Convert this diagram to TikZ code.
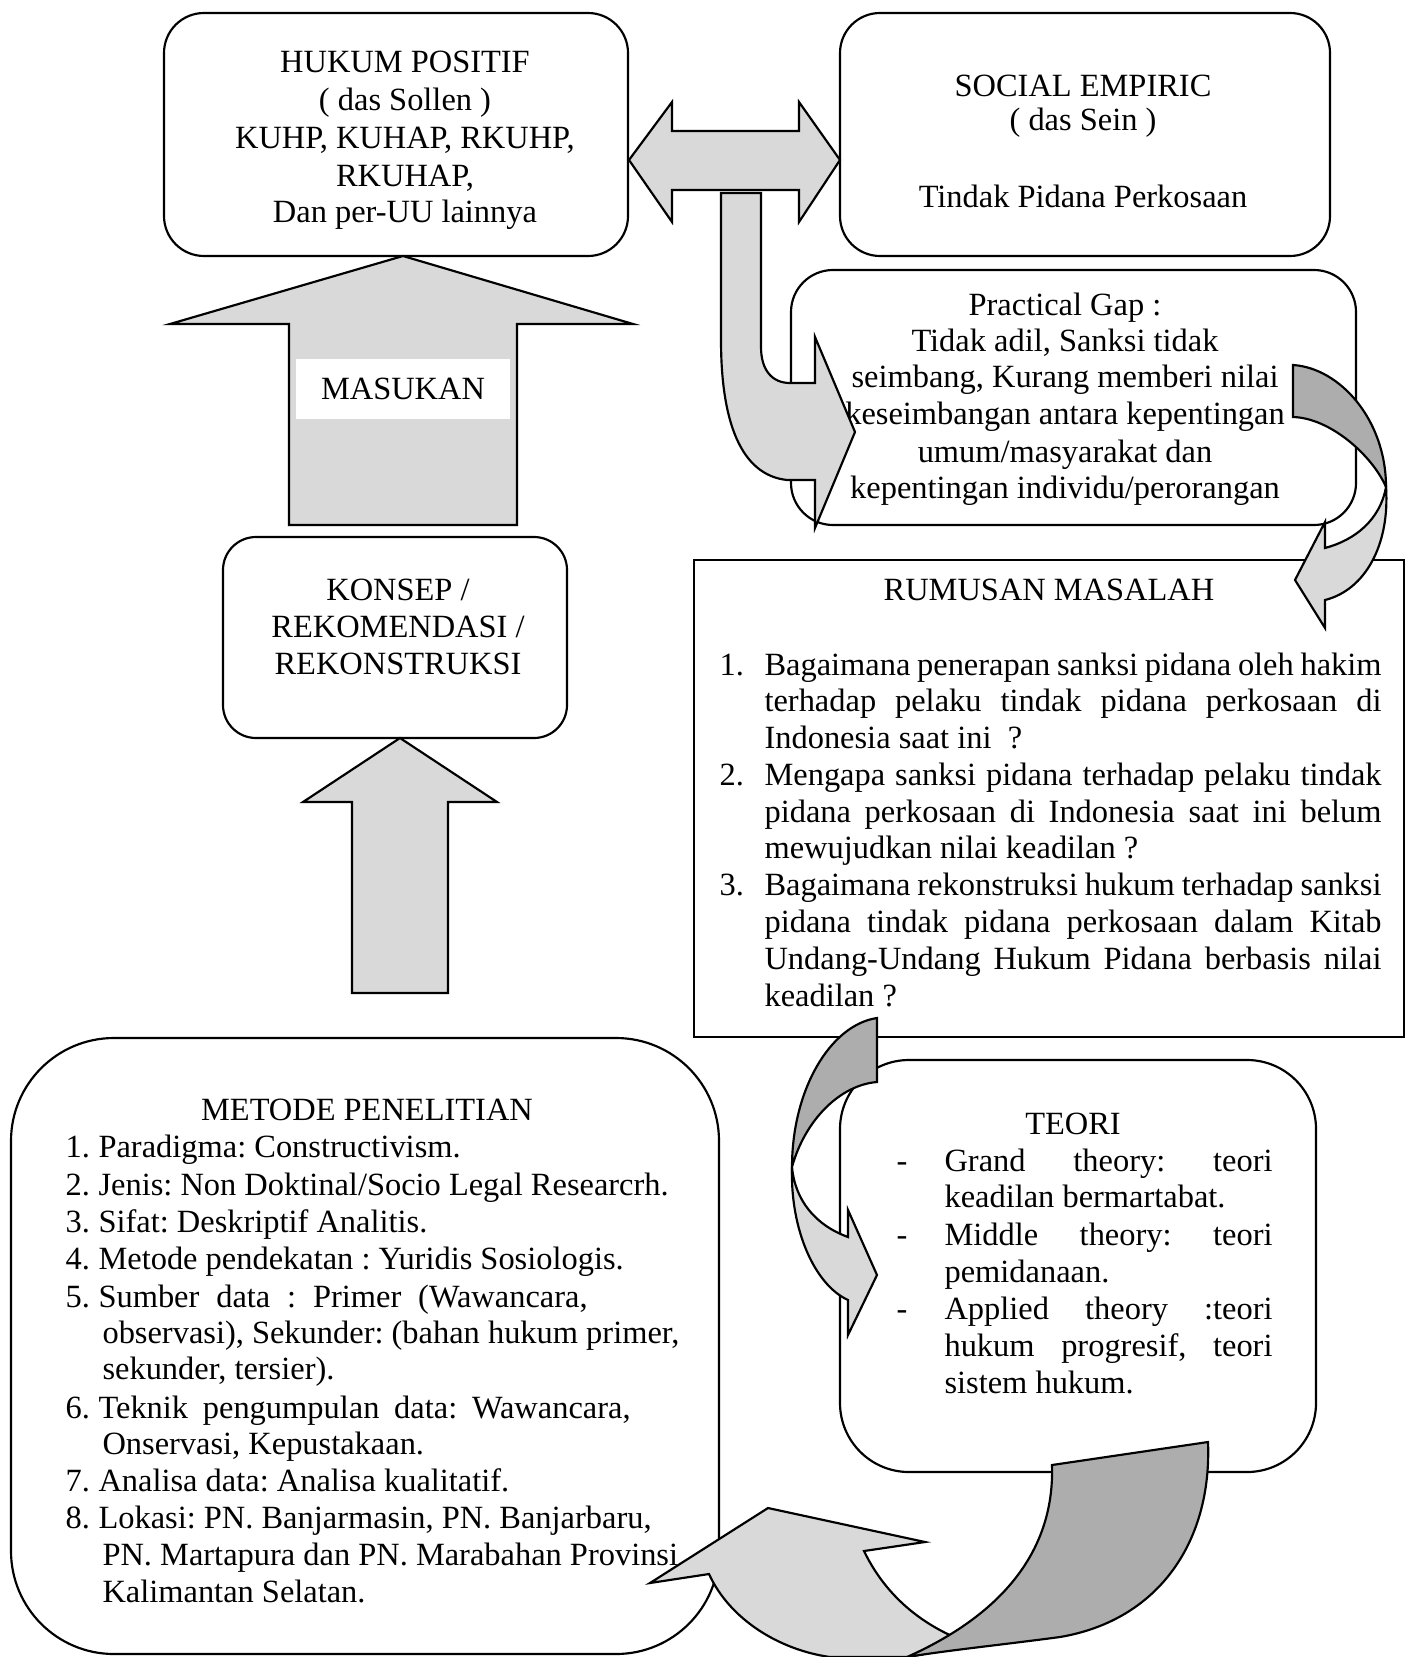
\documentclass[tikz,border=0pt]{standalone}
\usepackage{fontspec}
\setmainfont{Liberation Serif}
\newdimen\pxu \pxu=0.37pt
\definecolor{lg}{HTML}{D9D9D9}
\definecolor{dg}{HTML}{ADADAD}
\frenchspacing
\begin{document}
\begin{tikzpicture}[x=0.37pt,y=-0.37pt,
  every node/.style={font=\fontsize{12}{13.8}\selectfont\frenchspacing, inner sep=0pt},
  rbox/.style={draw, line width=0.8pt, rounded corners=#1},
  sbox/.style={draw, line width=0.8pt},
  arrowfill/.style={draw, line width=0.8pt, fill=lg, line join=miter},
  darkfill/.style={draw, line width=0.8pt, fill=dg, line join=miter},
  ct/.style={anchor=mid},
  lt/.style={anchor=mid west}]
\useasboundingbox (0,0) rectangle (1409,1657);

% ---------- boxes ----------
\node[rbox=40\pxu, minimum width=464\pxu, minimum height=243\pxu] (hukum) at (396,134.5) {};
\node[rbox=40\pxu, minimum width=490\pxu, minimum height=243\pxu] (social) at (1085,134.5) {};
\node[rbox=42\pxu, minimum width=565\pxu, minimum height=255\pxu] (gap) at (1073.5,397.5) {};
\node[sbox, minimum width=710\pxu, minimum height=477\pxu] (rumusan) at (1049,798.5) {};
\node[rbox=33\pxu, minimum width=344\pxu, minimum height=201\pxu] (konsep) at (395,637.5) {};
\node[rbox=103\pxu, minimum width=708\pxu, minimum height=616\pxu] (metode) at (365,1346) {};
\node[rbox=69\pxu, minimum width=476\pxu, minimum height=412\pxu] (teori) at (1078,1266) {};

\begin{scope}[shift={(0,5)}]
% ---------- texts: hukum ----------
\node[ct] (h1) at (405,61) {HUKUM POSITIF};
\node[ct] (h2) at (405,99) {( das Sollen )};
\node[ct] (h3) at (405,137) {KUHP, KUHAP, RKUHP,};
\node[ct] (h4) at (405,175) {RKUHAP,};
\node[ct] (h5) at (405,211) {Dan per-UU lainnya};

% ---------- social ----------
\node[ct] (s1) at (1083,85) {SOCIAL EMPIRIC};
\node[ct] (s2) at (1083,119) {( das Sein )};
\node[ct] (s3) at (1083,196) {Tindak Pidana Perkosaan};

% ---------- practical gap ----------
\node[ct] (g1) at (1065,304) {Practical Gap :};
\node[ct] (g2) at (1065,340) {Tidak adil, Sanksi tidak};
\node[ct] (g3) at (1065,376) {seimbang, Kurang memberi nilai};
\node[ct] (g4) at (1065,413) {keseimbangan antara kepentingan};
\node[ct] (g5) at (1065,451) {umum/masyarakat dan};
\node[ct] (g6) at (1065,487) {kepentingan individu/perorangan};

% ---------- rumusan ----------
\node[ct] (r0) at (1049,589) {RUMUSAN MASALAH};
\node[lt] (n1) at (719,664) {1.};
\node[lt] (r1) at (764,664) {\makebox[617\pxu][s]{Bagaimana penerapan sanksi pidana oleh hakim}};
\node[lt] (r2) at (764,700) {\makebox[617\pxu][s]{terhadap pelaku tindak pidana perkosaan di}};
\node[lt] (r3) at (764,737) {Indonesia saat ini\ \ ?};
\node[lt] (n2) at (719,774) {2.};
\node[lt] (r4) at (764,774) {\makebox[617\pxu][s]{Mengapa sanksi pidana terhadap pelaku tindak}};
\node[lt] (r5) at (764,811) {\makebox[617\pxu][s]{pidana perkosaan di Indonesia saat ini belum}};
\node[lt] (r6) at (764,847) {mewujudkan nilai keadilan ?};
\node[lt] (n3) at (719,884) {3.};
\node[lt] (r7) at (764,884) {\makebox[617\pxu][s]{Bagaimana rekonstruksi hukum terhadap sanksi}};
\node[lt] (r8) at (764,921) {\makebox[617\pxu][s]{pidana tindak pidana perkosaan dalam Kitab}};
\node[lt] (r9) at (764,958) {\makebox[617\pxu][s]{Undang-Undang Hukum Pidana berbasis nilai}};
\node[lt] (r10) at (764,995) {keadilan ?};

% ---------- konsep ----------
\node[ct] (k1) at (398,589) {KONSEP /};
\node[ct] (k2) at (398,626) {REKOMENDASI /};
\node[ct] (k3) at (398,663) {REKONSTRUKSI};

% ---------- teori ----------
\node[ct] (te0) at (1073,1123) {TEORI};
\node[lt] (d1) at (896,1160) {-};
\node[lt] (te1) at (944,1160) {\makebox[328\pxu][s]{Grand theory: teori}};
\node[lt] (te2) at (944,1196) {keadilan bermartabat.};
\node[lt] (d2) at (896,1234) {-};
\node[lt] (te3) at (944,1234) {\makebox[328\pxu][s]{Middle theory: teori}};
\node[lt] (te4) at (944,1271) {pemidanaan.};
\node[lt] (d3) at (896,1308) {-};
\node[lt] (te5) at (944,1308) {\makebox[328\pxu][s]{Applied theory :teori}};
\node[lt] (te6) at (944,1345) {\makebox[328\pxu][s]{hukum progresif, teori}};
\node[lt] (te7) at (944,1382) {sistem hukum.};

% ---------- metode ----------
\node[ct] (m0) at (367,1109) {METODE PENELITIAN};
\node[lt] (mn1) at (65,1146) {1.};
\node[lt] (m1) at (98,1146) {Paradigma: Constructivism.};
\node[lt] (mn2) at (65,1184) {2.};
\node[lt] (m2) at (98,1184) {Jenis: Non Doktinal/Socio Legal Researcrh.};
\node[lt] (mn3) at (65,1221) {3.};
\node[lt] (m3) at (98,1221) {Sifat: Deskriptif Analitis.};
\node[lt] (mn4) at (65,1258) {4.};
\node[lt] (m4) at (98,1258) {Metode pendekatan : Yuridis Sosiologis.};
\node[lt] (mn5) at (65,1296) {5.};
\node[lt] (m5) at (98,1296) {\makebox[489\pxu][s]{Sumber data : Primer (Wawancara,}};
\node[lt] (m6) at (102,1332) {observasi), Sekunder: (bahan hukum primer,};
\node[lt] (m7) at (102,1368) {sekunder, tersier).};
\node[lt] (mn6) at (65,1407) {6.};
\node[lt] (m8) at (98,1407) {\makebox[532\pxu][s]{Teknik pengumpulan data: Wawancara,}};
\node[lt] (m9) at (102,1443) {Onservasi, Kepustakaan.};
\node[lt] (mn7) at (65,1480) {7.};
\node[lt] (m10) at (98,1480) {Analisa data: Analisa kualitatif.};
\node[lt] (mn8) at (65,1517) {8.};
\node[lt] (m11) at (98,1517) {Lokasi: PN. Banjarmasin, PN. Banjarbaru,};
\node[lt] (m12) at (102,1554) {PN. Martapura dan PN. Marabahan Provinsi};
\node[lt] (m13) at (102,1591) {Kalimantan Selatan.};
\end{scope}

% ---------- block arrows ----------
% double arrow
\draw[arrowfill] (629,160) -- (672,102) -- (672,131) -- (799,131) -- (799,102) -- (840,160) -- (799,222) -- (799,190) -- (672,190) -- (672,222) -- cycle;
% bent arrow down to practical gap
\draw[arrowfill] (721,193) -- (761,193) -- (761,347) .. controls (761,370) and (772,383) .. (790,383) -- (815,383) -- (815,337) -- (855,432) -- (815,528) -- (815,480) -- (787,480) .. controls (740,475) and (721,420) .. (721,340) -- cycle;
% masukan arrow
\draw[arrowfill] (403,256) -- (633,324) -- (517,324) -- (517,525) -- (289,525) -- (289,324) -- (170,324) -- cycle;
\node[fill=white, minimum width=214\pxu, minimum height=60\pxu] (maslabel) at (403,389) {\raisebox{-0.4ex}{MASUKAN}};
% lower up arrow
\draw[arrowfill] (400,738) -- (497,802) -- (448,802) -- (448,993) -- (352,993) -- (352,802) -- (303,802) -- cycle;
% curved arrow gap -> rumusan
\draw[arrowfill] (1386,487) .. controls (1390,545) and (1365,590) .. (1325,600) -- (1325,628) -- (1295,580) -- (1325,522) -- (1325,548) .. controls (1355,540) and (1380,520) .. (1386,487) -- cycle;
\draw[darkfill] (1293,365) .. controls (1340,368) and (1386,420) .. (1386,487) .. controls (1372,455) and (1330,418) .. (1293,417) -- cycle;
% curved arrow rumusan -> teori
\draw[arrowfill] (792,1167) .. controls (790,1230) and (815,1285) .. (848,1300) -- (848,1335) -- (877,1275) -- (848,1210) -- (848,1237) .. controls (815,1225) and (795,1200) .. (792,1167) -- cycle;
\draw[darkfill] (877,1018) .. controls (830,1025) and (792,1090) .. (792,1167) .. controls (805,1120) and (840,1085) .. (877,1082) -- cycle;
% curved arrow teori -> metode
\draw[arrowfill] (650,1583) -- (768,1508) -- (925,1542) -- (864,1551) .. controls (890,1605) and (935,1632) .. (975,1645) -- (907,1657) -- (830,1657) .. controls (780,1650) and (730,1620) .. (709,1574) -- cycle;
\draw[darkfill] (1052,1465) -- (1208,1442) .. controls (1212,1540) and (1160,1620) .. (1060,1637) .. controls (1000,1645) and (950,1650) .. (907,1657) .. controls (990,1620) and (1055,1560) .. (1052,1465) -- cycle;
\end{tikzpicture}
\end{document}
